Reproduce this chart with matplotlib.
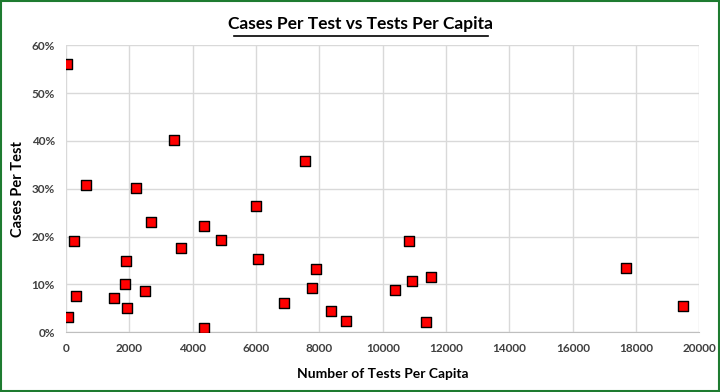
import matplotlib.pyplot as plt
from matplotlib.lines import Line2D
from matplotlib.patches import Rectangle
from matplotlib.ticker import PercentFormatter

plt.rcParams['font.family'] = ['Lato', 'DejaVu Sans']

# tests per capita and cases per test (%)
tests_per_capita = [20, 3394, 618, 2196, 2669, 4372, 240, 4899, 3615, 1880,
                    1849, 2502, 315, 1502, 1912, 50, 4341, 7558, 6013, 6076,
                    7905, 7779, 6896, 8379, 8852, 10839, 10924, 11533, 10397,
                    11375, 17685, 19483]
cases_per_test = [56.1, 40.2, 30.8, 30.1, 23.0, 22.2, 19.0, 19.2, 17.6, 14.85,
                  10.0, 8.6, 7.5, 7.2, 5.0, 3.2, 0.8, 35.8, 26.4, 15.3,
                  13.2, 9.2, 6.1, 4.4, 2.3, 19.0, 10.7, 11.5, 8.85,
                  2.1, 13.4, 5.4]

fig = plt.figure(figsize=(7.2, 3.92), dpi=100)
ax = fig.add_axes([0.0917, 0.1523, 0.8798, 0.7321])

ax.scatter(tests_per_capita, cases_per_test, marker='s', s=44,
           color='#ff0000', edgecolor='black', linewidth=1, zorder=3)

ax.set_xlim(0, 20000)
ax.set_ylim(0, 60)
ax.set_xticks(range(0, 20001, 2000))
ax.set_yticks(range(0, 61, 10))
ax.yaxis.set_major_formatter(PercentFormatter(decimals=0))
ax.grid(True, color='#d9d9d9', linewidth=1)
ax.set_axisbelow(True)
for s in ['top', 'right', 'left']:
    ax.spines[s].set_visible(False)
ax.spines['bottom'].set_color('#bfbfbf')
ax.tick_params(length=0, labelsize=8.5, labelcolor='#404040', pad=8)
for lbl in ax.get_xticklabels() + ax.get_yticklabels():
    lbl.set_fontweight('bold')

ax.set_xlabel('Number of Tests Per Capita', fontsize=10, fontweight='bold',
              labelpad=10)
ax.set_ylabel('Cases Per Test', fontsize=10.5, fontweight='bold', labelpad=5)

# underlined title
fig.text(0.5, 0.938, 'Cases Per Test vs Tests Per Capita', ha='center',
         va='center', fontsize=12.5, fontweight='bold')
fig.add_artist(Line2D([234 / 720, 488 / 720], [1 - 36 / 392, 1 - 36 / 392],
                      color='black', linewidth=1.2))

# green border
fig.add_artist(Rectangle((0.001, 0.002), 0.997, 0.995, transform=fig.transFigure,
                         fill=False, edgecolor='#1e7b30', linewidth=1.5))

fig.savefig('out.png', dpi=100)
